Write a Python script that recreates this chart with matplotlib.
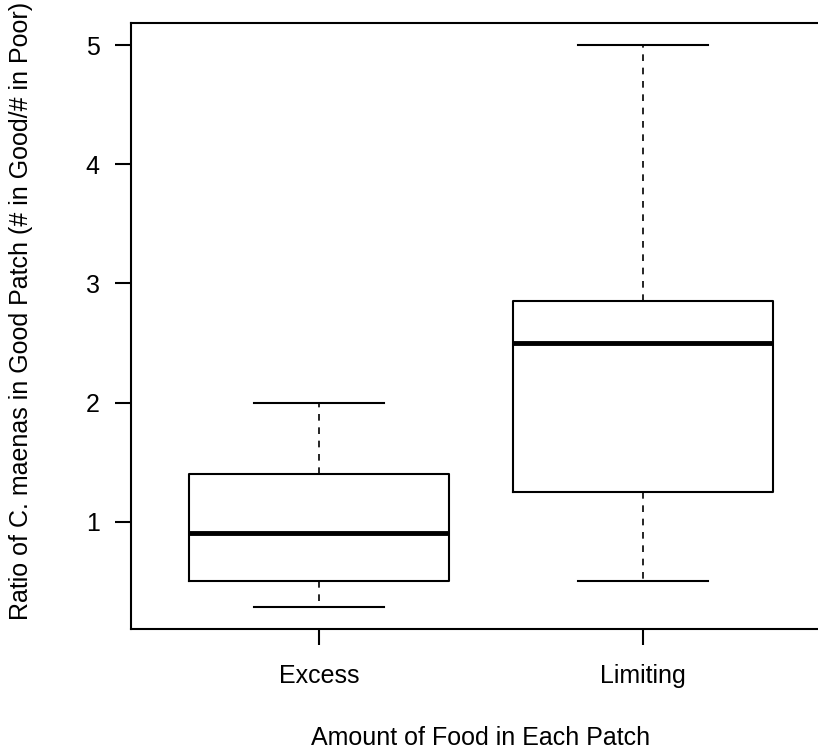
import matplotlib.pyplot as plt

plt.rcParams['font.family'] = ['Liberation Sans', 'DejaVu Sans']

groups = ['Excess', 'Limiting']
whisker_low = [0.2857, 0.5]
q1 = [0.5, 1.25]
medians = [0.9, 2.5]
q3 = [1.4, 2.857]
whisker_high = [2.0, 5.0]

stats = []
for i, g in enumerate(groups):
    stats.append({'label': g, 'whislo': whisker_low[i], 'q1': q1[i], 'med': medians[i],
                  'q3': q3[i], 'whishi': whisker_high[i], 'fliers': []})

fig = plt.figure(figsize=(8.18, 7.49), dpi=100)
ax = fig.add_axes([131 / 818, 120 / 749, 700 / 818, 606 / 749])

# R-style boxplot
ax.bxp(stats, positions=[1, 2], widths=0.8, showfliers=False, patch_artist=False,
       boxprops=dict(color='black', linewidth=1.5),
       medianprops=dict(color='black', linewidth=3.5, solid_capstyle='butt'),
       whiskerprops=dict(color='black', linewidth=1.2, linestyle=(0, (4, 4))),
       capprops=dict(color='black', linewidth=1.5),
       capwidths=0.4)

ax.set_xlim(0.42, 2.58)
ax.set_ylim(0.0972, 5.1886)
ax.set_yticks([1, 2, 3, 4, 5])
ax.set_yticklabels(['1', '2', '3', '4', '5'])
ax.set_xticks([1, 2])
ax.set_xticklabels(groups)
ax.tick_params(axis='both', direction='out', length=11.5, width=1.5, labelsize=18)
ax.tick_params(axis='y', pad=11)
ax.tick_params(axis='x', pad=14)

for s in ax.spines.values():
    s.set_linewidth(1.5)

fig.text(481 / 818, 1 - 738 / 749, 'Amount of Food in Each Patch', ha='center', va='center', fontsize=18)
fig.text(21 / 818, 1 - 311 / 749, 'Ratio of C. maenas in Good Patch (# in Good/# in Poor)',
         ha='center', va='center', rotation=90, fontsize=18)

fig.savefig('out.png', dpi=100)
